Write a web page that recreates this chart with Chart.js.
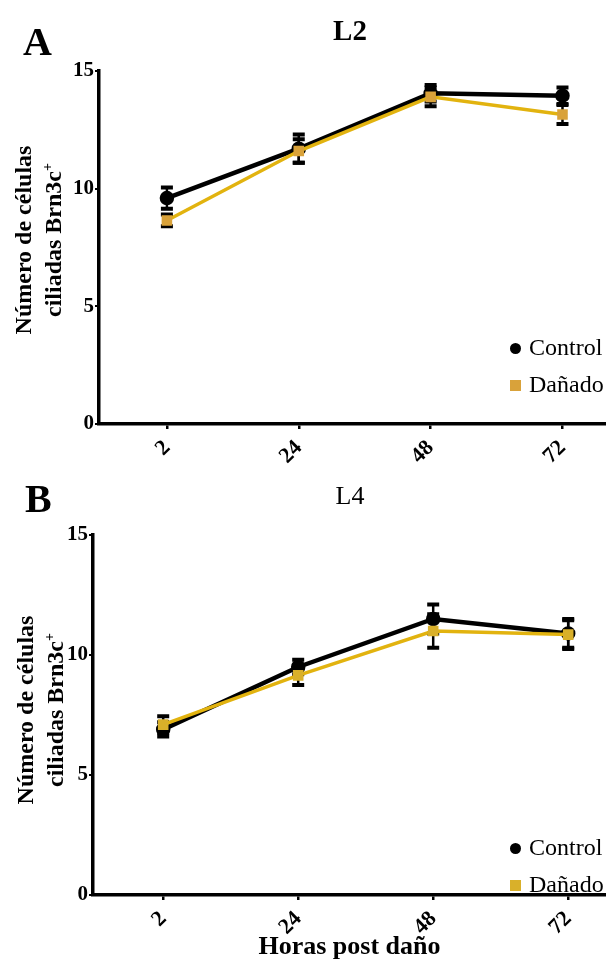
<!DOCTYPE html>
<html>
<head>
<meta charset="utf-8">
<script src="https://cdn.jsdelivr.net/npm/chart.js@4.4.0/dist/chart.umd.min.js"></script>
<style>
html, body { margin: 0; padding: 0; background: #fff; }
body { width: 606px; height: 965px; position: relative; overflow: hidden;
       font-family: "Liberation Serif", "Times New Roman", serif; color: #000; }
.panel { position: absolute; left: 0; width: 606px; }
#panelA { top: 0; height: 480px; }
#panelB { top: 480px; height: 485px; }
canvas { position: absolute; left: 0; top: 0; }
.letter { position: absolute; font-weight: bold; font-size: 40px; line-height: 1; }
.title { position: absolute; font-size: 29px; line-height: 1; transform: translateX(-50%); white-space: nowrap; }
.ytitle { position: absolute; font-weight: bold; font-size: 24px; line-height: 30px; text-align: center;
          white-space: nowrap; transform: translate(-50%, -50%) rotate(-90deg); }
.ytitle sup { font-size: 14px; vertical-align: 9px; line-height: 0; }
.legend { position: absolute; left: 510px; font-size: 24px; line-height: 37px; white-space: nowrap; }
.mark { display: inline-block; width: 11px; height: 11px; margin-right: 8px; vertical-align: 1px; }
</style>
</head>
<body>

<div class="panel" id="panelA">
  <canvas id="chartA" width="606" height="480"></canvas>
  <div class="letter" style="left:23px; top:22px;">A</div>
  <div class="title" style="left:350px; top:16px; font-weight:bold;">L2</div>
  <div class="ytitle" style="left:38px; top:240px;">Número de células<br>ciliadas Brn3c<sup>+</sup></div>
  <div class="legend" style="top:329px;">
    <div><span class="mark" style="background:#000; border-radius:50%;"></span>Control</div>
    <div><span class="mark" style="background:#d9a23a;"></span>Dañado</div>
  </div>
</div>

<div class="panel" id="panelB">
  <canvas id="chartB" width="606" height="485"></canvas>
  <div class="letter" style="left:25px; top:-1px;">B</div>
  <div class="title" style="left:350px; top:3px; font-size:26px;">L4</div>
  <div class="ytitle" style="left:40px; top:230px;">Número de células<br>ciliadas Brn3c<sup>+</sup></div>
  <div class="legend" style="top:349px;">
    <div><span class="mark" style="background:#000; border-radius:50%;"></span>Control</div>
    <div><span class="mark" style="background:#d9b02a;"></span>Dañado</div>
  </div>
</div>

<script>
// datos
const horas = ['2', '24', '48', '72'];
const yTicks = [0, 5, 10, 15];

// L2
const controlL2 = [9.6, 11.7, 14.05, 13.95];
const controlL2Err = [0.45, 0.6, 0.35, 0.35];
const danadoL2 = [8.65, 11.6, 13.9, 13.15];
const danadoL2Err = [0.25, 0.5, 0.4, 0.4];

// L4
const controlL4 = [6.9, 9.5, 11.5, 10.9];
const controlL4Err = [0.3, 0.3, 0.6, 0.6];
const danadoL4 = [7.1, 9.15, 11.0, 10.85];
const danadoL4Err = [0.35, 0.4, 0.7, 0.6];

const serif = '"Liberation Serif", "Times New Roman", serif';

// barras de error (media +- error)
const errorBars = {
    id: 'errorBars',
    beforeDatasetsDraw(chart) {
        const ctx = chart.ctx;
        const xs = chart.scales.x;
        const ys = chart.scales.y;
        ctx.save();
        ctx.strokeStyle = '#000';
        chart.data.datasets.forEach(function(ds) {
            ds.errors.forEach(function(e, j) {
                const p = ds.data[j];
                const px = xs.getPixelForValue(p.x);
                const top = ys.getPixelForValue(p.y + e);
                const bot = ys.getPixelForValue(p.y - e);
                ctx.lineWidth = 2.5;
                ctx.beginPath();
                ctx.moveTo(px, top);
                ctx.lineTo(px, bot);
                ctx.stroke();
                ctx.lineWidth = 4;
                ctx.beginPath();
                ctx.moveTo(px - 6, top);
                ctx.lineTo(px + 6, top);
                ctx.moveTo(px - 6, bot);
                ctx.lineTo(px + 6, bot);
                ctx.stroke();
            });
        });
        ctx.restore();
    }
};

function toPoints(values) {
    return values.map(function(v, i) { return { x: i, y: v }; });
}

function makeChart(id, control, controlErr, danado, danadoErr, opt) {
    const config = {
        type: 'line',
        data: {
            datasets: [
                {
                    label: 'Control',
                    data: toPoints(control),
                    errors: controlErr,
                    borderColor: '#000',
                    backgroundColor: '#000',
                    borderWidth: 4.5,
                    pointStyle: 'circle',
                    pointRadius: 5,
                    tension: 0,
                    order: 1
                },
                {
                    label: 'Dañado',
                    data: toPoints(danado),
                    errors: danadoErr,
                    borderColor: '#e2b30f',
                    backgroundColor: opt.markColor,
                    pointBorderColor: opt.markColor,
                    borderWidth: 3.5,
                    pointStyle: 'rect',
                    pointRadius: 5,
                    tension: 0,
                    order: 0
                }
            ]
        },
        options: {
            responsive: false,
            animation: false,
            layout: { autoPadding: false, padding: { top: opt.top, left: 0, right: 0, bottom: 0 } },
            plugins: {
                legend: { display: false },
                tooltip: { enabled: false }
            },
            scales: {
                x: {
                    type: 'linear',
                    min: opt.xmin,
                    max: opt.xmax,
                    afterBuildTicks: function(s) {
                        s.ticks = horas.map(function(h, i) { return { value: i }; });
                    },
                    afterFit: function(s) {
                        s.height = opt.xHeight;
                        s.paddingLeft = 0;
                        s.paddingRight = 0;
                    },
                    ticks: {
                        callback: function(v) { return horas[v]; },
                        minRotation: 45,
                        maxRotation: 45,
                        padding: 6,
                        color: '#000',
                        font: { family: serif, size: 22, weight: 'bold' }
                    },
                    grid: { display: true, drawOnChartArea: false, drawTicks: true, tickLength: 5, color: '#000', lineWidth: 2.5 },
                    border: { color: '#000', width: 3.5 },
                    title: {
                        display: opt.xTitle !== '',
                        text: opt.xTitle,
                        color: '#000',
                        padding: { top: 0, bottom: 2 },
                        font: { family: serif, size: 26, weight: 'bold' }
                    }
                },
                y: {
                    min: 0,
                    max: 15,
                    afterBuildTicks: function(s) {
                        s.ticks = yTicks.map(function(v) { return { value: v }; });
                    },
                    afterFit: function(s) { s.width = opt.yWidth; },
                    ticks: {
                        padding: 1,
                        color: '#000',
                        font: { family: serif, size: 21, weight: 'bold' }
                    },
                    grid: { display: true, drawOnChartArea: false, drawTicks: true, tickLength: 4, color: '#000', lineWidth: 2 },
                    border: { color: '#000', width: 3.5 }
                }
            }
        },
        plugins: [errorBars]
    };
    return new Chart(document.getElementById(id), config);
}

makeChart('chartA', controlL2, controlL2Err, danadoL2, danadoL2Err, {
    top: 71, yWidth: 99, xHeight: 56, xmin: -0.515, xmax: 3.33,
    xTitle: '', markColor: '#d9a23a'
});

makeChart('chartB', controlL4, controlL4Err, danadoL4, danadoL4Err, {
    top: 55, yWidth: 93, xHeight: 70, xmin: -0.52, xmax: 3.28,
    xTitle: 'Horas post daño', markColor: '#d9b02a'
});
</script>
</body>
</html>
